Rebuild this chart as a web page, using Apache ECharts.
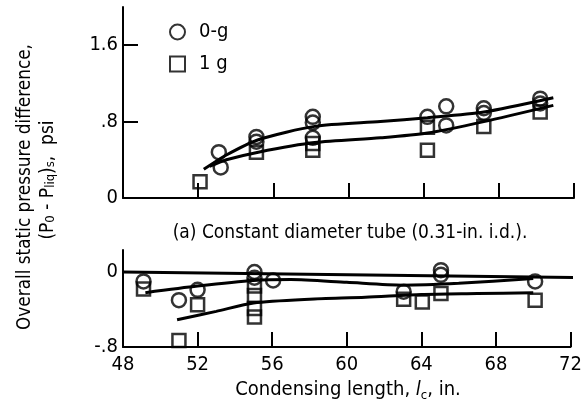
<!DOCTYPE html>
<html>
<head>
<meta charset="utf-8">
<script src="https://cdn.jsdelivr.net/npm/echarts@6/dist/echarts.min.js"></script>
<style>html,body{margin:0;padding:0;background:#fff}#c{width:585px;height:409px}</style>
</head>
<body>
<div id="c"></div>
<script>
// ---- data ----
const xTicks = [48, 52, 56, 60, 64, 68, 72];
const topYTicks = [0, 0.8, 1.6];
const botYTicks = [-0.8, 0];
const topYLabels = {'0': '0', '0.8': '.8', '1.6': '1.6'};
const botYLabels = {'0': '0', '-0.8': '-.8'};

// (a) constant diameter tube - upper panel
const top0g = [[53.1,0.48],[53.2,0.32],[55.1,0.64],[55.1,0.59],[58.1,0.85],[58.1,0.79],[58.1,0.63],
               [64.2,0.85],[65.2,0.96],[65.2,0.76],[67.2,0.94],[67.2,0.89],[70.2,1.04],[70.2,0.99]];
const top1g = [[52.1,0.17],[55.1,0.48],[58.1,0.57],[58.1,0.50],[64.2,0.74],[64.2,0.50],[67.2,0.75],[70.2,0.90]];
const topCurve0g = [[52.3,0.30],[53.5,0.45],[55.2,0.61],[58.2,0.75],[61.7,0.80],[64.2,0.84],[67.2,0.90],[70.9,1.05]];
const topCurve1g = [[52.6,0.33],[53.5,0.40],[55.2,0.48],[58.2,0.58],[61.7,0.63],[64.2,0.68],[67.2,0.80],[70.9,0.97]];

// lower panel
const bot0g = [[49.1,-0.10],[51.0,-0.30],[52.0,-0.19],[55.05,0.00],[55.05,-0.06],[56.05,-0.09],
               [63.05,-0.21],[65.05,0.02],[65.05,-0.03],[70.1,-0.10]];
const bot1g = [[49.1,-0.18],[51.0,-0.73],[52.0,-0.35],[55.05,-0.15],[55.05,-0.25],[55.05,-0.39],[55.05,-0.48],
               [63.05,-0.29],[64.05,-0.32],[65.05,-0.23],[70.1,-0.30]];
const botZeroLine = [[48,0.0],[72.4,-0.06]];
const botCurve0g = [[49.2,-0.22],[52,-0.15],[55,-0.09],[57,-0.08],[60,-0.11],[63,-0.14],[66,-0.12],[70,-0.07]];
const botCurve1g = [[50.9,-0.51],[53,-0.42],[55,-0.33],[58,-0.29],[61,-0.27],[64,-0.24],[67,-0.23],[70,-0.22]];

// ---- chart ----
const FONT = "'DejaVu Sans Condensed', 'Liberation Sans Narrow', sans-serif";
const chart = echarts.init(document.getElementById('c'), null, {renderer: 'canvas'});
const axisLine = {show: true, onZero: false, lineStyle: {color: '#000', width: 2}};
const tick = {show: true, inside: true, length: 15, lineStyle: {color: '#000', width: 2}};
const markerStyle = {color: 'rgba(255,255,255,0)', borderColor: '#000', borderWidth: 2.5};
const curve = (data, xi) => ({
  type: 'line', xAxisIndex: xi, yAxisIndex: xi, data: data, smooth: 0.25,
  symbol: 'none', clip: false, silent: true,
  lineStyle: {color: '#000', width: 3}, z: 2
});

chart.setOption({
  animation: false,
  backgroundColor: '#fff',
  textStyle: {fontFamily: FONT, color: '#000'},
  grid: [
    {left: 123, right: 11, top: 7, height: 191},
    {left: 123, right: 11, top: 250, height: 97}
  ],
  xAxis: [
    {gridIndex: 0, type: 'value', min: 48, max: 72, interval: 4,
     axisLine: axisLine, axisTick: tick, axisLabel: {show: false}, splitLine: {show: false}},
    {gridIndex: 1, type: 'value', min: 48, max: 72, interval: 4,
     axisLine: axisLine, axisTick: tick, splitLine: {show: false},
     axisLabel: {show: true, margin: 8, fontSize: 20, color: '#000', fontFamily: FONT,
                 customValues: xTicks}}
  ],
  yAxis: [
    {gridIndex: 0, type: 'value', min: 0, max: 2.0,
     axisLine: axisLine, splitLine: {show: false},
     axisTick: Object.assign({}, tick, {customValues: topYTicks}),
     axisLabel: {margin: 5, fontSize: 20, color: '#000', fontFamily: FONT, customValues: topYTicks,
                 formatter: v => topYLabels[String(Math.round(v*10)/10)] || ''}},
    {gridIndex: 1, type: 'value', min: -0.8, max: 0.235,
     axisLine: axisLine, splitLine: {show: false},
     axisTick: Object.assign({}, tick, {customValues: botYTicks}),
     axisLabel: {margin: 5, fontSize: 20, color: '#000', fontFamily: FONT, customValues: botYTicks,
                 formatter: v => botYLabels[String(Math.round(v*10)/10)] || ''}}
  ],
  legend: {
    data: ['0-g', '1 g'], orient: 'vertical', left: 164, top: 17,
    itemWidth: 15, itemHeight: 15, itemGap: 12,
    textStyle: {fontSize: 20, color: '#000', fontFamily: FONT, padding: [0, 0, 0, 9]}
  },
  series: [
    curve(topCurve0g, 0), curve(topCurve1g, 0),
    curve(botZeroLine, 1), curve(botCurve0g, 1), curve(botCurve1g, 1),
    {name: '0-g', type: 'scatter', xAxisIndex: 0, yAxisIndex: 0, data: top0g,
     symbol: 'circle', symbolSize: 14, itemStyle: markerStyle, z: 3},
    {name: '1 g', type: 'scatter', xAxisIndex: 0, yAxisIndex: 0, data: top1g,
     symbol: 'rect', symbolSize: 13, itemStyle: markerStyle, z: 3},
    {name: '0-g', type: 'scatter', xAxisIndex: 1, yAxisIndex: 1, data: bot0g,
     symbol: 'circle', symbolSize: 14, itemStyle: markerStyle, z: 3},
    {name: '1 g', type: 'scatter', xAxisIndex: 1, yAxisIndex: 1, data: bot1g,
     symbol: 'rect', symbolSize: 13, itemStyle: markerStyle, z: 3}
  ],
  graphic: [
    {type: 'text', x: 350, y: 233, style: {
      text: '(a) Constant diameter tube (0.31-in. i.d.).', fontSize: 19, fontFamily: FONT,
      fill: '#000', align: 'center', verticalAlign: 'middle'}},
    {type: 'text', x: 348, y: 390, style: {
      text: 'Condensing length, {it|l}{sub|c}, in.', fontSize: 20, fontFamily: FONT,
      fill: '#000', align: 'center', verticalAlign: 'middle',
      rich: {it: {fontSize: 20, fontStyle: 'italic', fontFamily: FONT, lineHeight: 24},
             sub: {fontSize: 13, fontFamily: FONT, lineHeight: 13, verticalAlign: 'bottom'}}}},
    {type: 'text', x: 25, y: 187, rotation: Math.PI / 2, style: {
      text: 'Overall static pressure difference,', fontSize: 18.8, fontFamily: FONT,
      fill: '#000', align: 'center', verticalAlign: 'middle'}},
    {type: 'text', x: 48, y: 180, rotation: Math.PI / 2, style: {
      text: '(P{sub|0} - P{sub|liq}){sub|s},  psi', fontSize: 19, fontFamily: FONT,
      fill: '#000', align: 'center', verticalAlign: 'middle',
      rich: {sub: {fontSize: 13, fontFamily: FONT, lineHeight: 13, verticalAlign: 'bottom'}}}}
  ]
});
</script>
</body>
</html>
